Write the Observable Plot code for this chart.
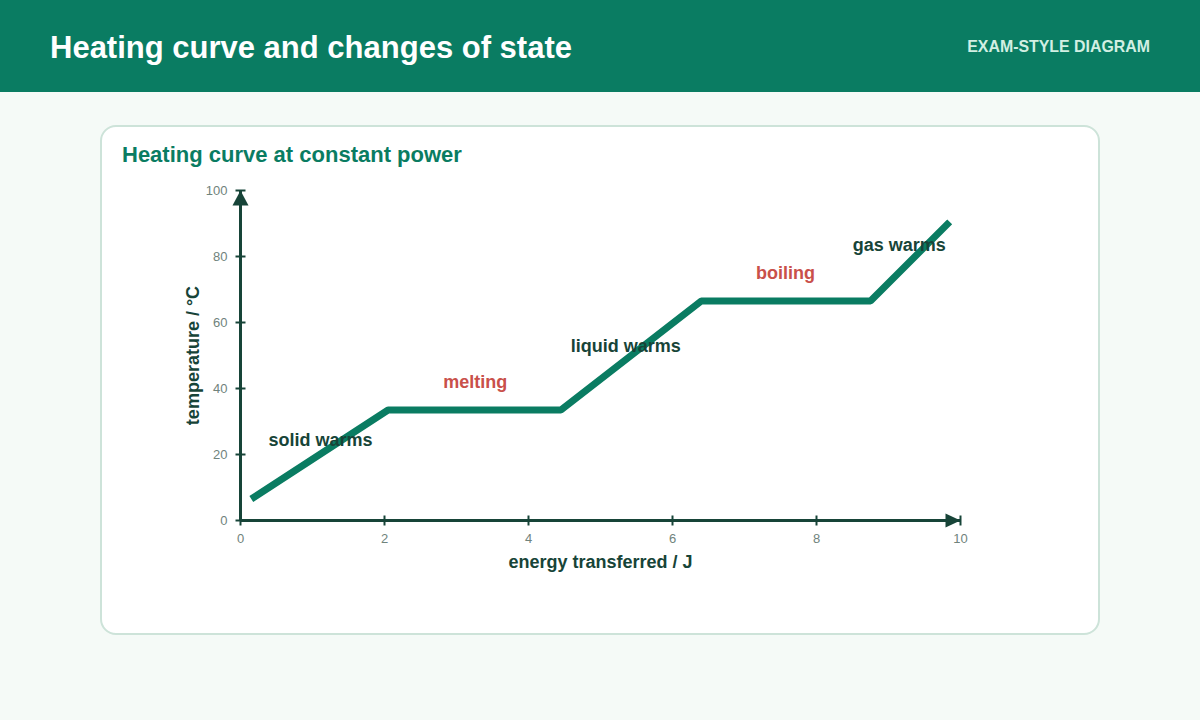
<!DOCTYPE html>
<html>
<head>
<meta charset="utf-8">
<script src="https://cdn.jsdelivr.net/npm/d3@7"></script>
<script src="https://cdn.jsdelivr.net/npm/@observablehq/plot@0.6"></script>
<style>
  html, body { margin: 0; padding: 0; }
  body { width: 1200px; height: 720px; background: #f5faf7; font-family: "Liberation Sans", Arial, sans-serif; position: relative; overflow: hidden; }
  .header { position: absolute; left: 0; top: 0; width: 1200px; height: 92px; background: #0a7c62; }
  .header h1 { position: absolute; left: 50px; top: 30px; margin: 0; font-size: 31px; line-height: 36px; font-weight: bold; color: #ffffff; }
  .header .tag { position: absolute; right: 50px; top: 37px; font-size: 15.9px; line-height: 20px; font-weight: bold; color: #d2efe3; }
  .card { position: absolute; left: 100px; top: 125px; width: 996px; height: 506px; background: #ffffff; border: 2px solid #cde3d9; border-radius: 16px; }
  .card h2 { position: absolute; left: 20px; top: 14px; margin: 0; font-size: 22px; line-height: 28px; font-weight: bold; color: #0a7c62; }
  #chart { position: absolute; left: 100px; top: 170px; }
</style>
</head>
<body>
<div class="header">
  <h1>Heating curve and changes of state</h1>
  <div class="tag">EXAM-STYLE DIAGRAM</div>
</div>
<div class="card">
  <h2>Heating curve at constant power</h2>
</div>
<div id="chart"></div>
<script>
// Data
const energy = [0.15, 2.05, 4.45, 6.4, 8.75, 9.85];
const temperature = [6.5, 33.5, 33.5, 66.5, 66.5, 90.5];
const xTicks = [0, 2, 4, 6, 8, 10];
const yTicks = [0, 20, 40, 60, 80, 100];
const labelText = ["solid warms", "melting", "liquid warms", "boiling", "gas warms"];
const labelX = [1.11, 3.26, 5.35, 7.57, 9.15];
const labelY = [24.2, 41.8, 52.7, 75.0, 83.3];
const labelKind = ["warm", "change", "warm", "change", "warm"];

const curve = energy.map((e, i) => ({energy: e, temperature: temperature[i]}));
const labels = labelText.map((t, i) => ({text: t, x: labelX[i], y: labelY[i], kind: labelKind[i]}));

const dark = "#174438";
const green = "#0a7c62";
const red = "#c9504a";
const gray = "#70837c";

const vTick = {draw(ctx) { ctx.moveTo(0, -5); ctx.lineTo(0, 5); }};
const hTick = {draw(ctx) { ctx.moveTo(-5, 0); ctx.lineTo(5, 0); }};
const upHead = {draw(ctx) { ctx.moveTo(0, 0); ctx.lineTo(-8, 15); ctx.lineTo(8, 15); ctx.closePath(); }};
const rightHead = {draw(ctx) { ctx.moveTo(0, 0); ctx.lineTo(-15, -7); ctx.lineTo(-15, 7); ctx.closePath(); }};

const chart = Plot.plot({
  width: 1000,
  height: 420,
  marginLeft: 140,
  marginRight: 140,
  marginTop: 20,
  marginBottom: 70,
  style: {fontFamily: '"Liberation Sans", Arial, sans-serif', background: "transparent", overflow: "visible"},
  x: {domain: [0, 10], axis: null},
  y: {domain: [0, 100], axis: null},
  marks: [
    Plot.ruleY([0], {stroke: dark, strokeWidth: 3}),
    Plot.ruleX([0], {stroke: dark, strokeWidth: 3}),
    Plot.dot(xTicks, {x: d => d, y: 0, symbol: vTick, stroke: dark, strokeWidth: 2, fill: "none", r: 4}),
    Plot.dot(yTicks, {x: 0, y: d => d, symbol: hTick, stroke: dark, strokeWidth: 2, fill: "none", r: 4}),
    Plot.dot([100], {x: 0, y: d => d, symbol: upHead, r: 4, fill: dark, stroke: "none"}),
    Plot.dot([10], {x: d => d, y: 0, symbol: rightHead, r: 4, fill: dark, stroke: "none"}),
    Plot.text(xTicks, {x: d => d, y: 0, dy: 18, text: d => String(d), fill: gray, fontSize: 13}),
    Plot.text(yTicks, {x: 0, y: d => d, dx: -13, text: d => String(d), fill: gray, fontSize: 13, textAnchor: "end"}),
    Plot.line(curve, {x: "energy", y: "temperature", stroke: green, strokeWidth: 7, strokeLinecap: "butt", strokeLinejoin: "miter"}),
    Plot.text(labels, {x: "x", y: "y", text: "text", fill: d => d.kind === "change" ? red : dark, fontSize: 18, fontWeight: "bold"}),
    Plot.text(["energy transferred / J"], {frameAnchor: "bottom", dy: 42, lineAnchor: "middle", textAnchor: "middle", text: d => d, fill: dark, fontSize: 18, fontWeight: "bold"}),
    Plot.text(["temperature / °C"], {frameAnchor: "left", dx: -47, rotate: -90, lineAnchor: "middle", textAnchor: "middle", text: d => d, fill: dark, fontSize: 18, fontWeight: "bold"})
  ]
});
document.getElementById("chart").appendChild(chart);
</script>
</body>
</html>
